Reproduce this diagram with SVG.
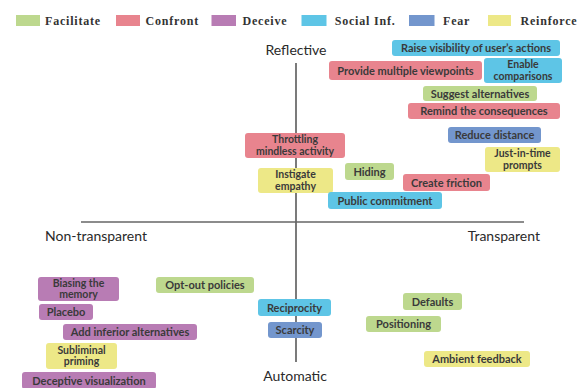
<svg xmlns="http://www.w3.org/2000/svg" width="584" height="388" viewBox="0 0 584 388">
<style>
.fa{fill:#bdd88e}.co{fill:#e8848e}.de{fill:#b87cb4}.so{fill:#5ec5e6}.fe{fill:#7396cd}.re{fill:#ede887}
.t{font-family:Lato,"Open Sans",sans-serif;font-weight:700;font-size:11px;fill:#3a3a3a;text-anchor:middle}
.t2{font-size:10.5px}
.lg{font-family:"Liberation Serif","Times New Roman",serif;font-weight:700;font-size:12px;letter-spacing:0.8px;fill:#333}
.ax{font-family:Lato,"Open Sans",sans-serif;font-size:14px;fill:#2a2a2a}
.axl{stroke:#333;stroke-width:1.3;fill:none}
.axh{stroke:#666;stroke-width:1.3;fill:none}
</style>
<rect width="584" height="388" fill="#fff"/>
<g id="legend">
<rect class="fa" x="16" y="15" width="24" height="11"/><text class="lg" x="45" y="25">Facilitate</text>
<rect class="co" x="116" y="15" width="24" height="11"/><text class="lg" x="145.5" y="25">Confront</text>
<rect class="de" x="211.5" y="15" width="24.5" height="11"/><text class="lg" x="242.5" y="25">Deceive</text>
<rect class="so" x="301.5" y="15" width="25" height="11"/><text class="lg" x="334.7" y="25">Social Inf.</text>
<rect class="fe" x="409" y="15" width="25.5" height="11"/><text class="lg" x="443" y="25">Fear</text>
<rect class="re" x="488" y="15" width="23" height="11"/><text class="lg" x="520.5" y="25">Reinforce</text>
</g>
<g id="connectors">
<line class="axl" x1="296" y1="63" x2="296" y2="362"/>
<line class="axh" x1="81" y1="222" x2="524" y2="222"/>
</g>
<g id="labels">
<text class="ax" x="296" y="55" text-anchor="middle">Reflective</text>
<text class="ax" x="295" y="381" text-anchor="middle">Automatic</text>
<text class="ax" x="45" y="241">Non-transparent</text>
<text class="ax" x="540" y="241" text-anchor="end">Transparent</text>
</g>
<g id="raise"><rect class="so" x="392" y="40" width="168" height="16" rx="3"/><text class="t" x="476" y="52">Raise visibility of user’s actions</text></g>
<g id="provide"><rect class="co" x="329" y="61" width="153" height="19" rx="3"/><text class="t" x="405.5" y="74.5">Provide multiple viewpoints</text></g>
<g id="enable"><rect class="so" x="484" y="58" width="78" height="25" rx="3"/><text class="t t2" x="523" y="68.3">Enable<tspan x="523" dy="11.3">comparisons</tspan></text></g>
<g id="suggest"><rect class="fa" x="423" y="86" width="114" height="15" rx="3"/><text class="t" x="480" y="97.5">Suggest alternatives</text></g>
<g id="remind"><rect class="co" x="408" y="103" width="152" height="16" rx="3"/><text class="t" x="484" y="115">Remind the consequences</text></g>
<g id="reduce"><rect class="fe" x="448" y="127" width="93" height="16" rx="3"/><text class="t" x="494.5" y="139">Reduce distance</text></g>
<g id="throttling"><rect class="co" x="245" y="133" width="100" height="25" rx="3"/><text class="t t2" x="295" y="143.3">Throttling<tspan x="295" dy="11.3">mindless activity</tspan></text></g>
<g id="justintime"><rect class="re" x="485" y="147" width="75" height="25" rx="3"/><text class="t t2" x="522.5" y="157.3">Just-in-time<tspan x="522.5" dy="11.3">prompts</tspan></text></g>
<g id="instigate"><rect class="re" x="258" y="168" width="75" height="25" rx="3"/><text class="t t2" x="295.5" y="178.3">Instigate<tspan x="295.5" dy="11.3">empathy</tspan></text></g>
<g id="hiding"><rect class="fa" x="345" y="163" width="49" height="17" rx="3"/><text class="t" x="369.5" y="175.5">Hiding</text></g>
<g id="friction"><rect class="co" x="403" y="174" width="87" height="17" rx="3"/><text class="t" x="446.5" y="186.5">Create friction</text></g>
<g id="public"><rect class="so" x="328" y="192" width="114" height="17" rx="3"/><text class="t" x="385" y="204.5">Public commitment</text></g>
<g id="biasing"><rect class="de" x="38" y="277" width="81" height="24" rx="3"/><text class="t t2" x="78.5" y="287">Biasing the<tspan x="78.5" dy="11.3">memory</tspan></text></g>
<g id="optout"><rect class="fa" x="156" y="277" width="98" height="16" rx="3"/><text class="t" x="205" y="289">Opt-out policies</text></g>
<g id="placebo"><rect class="de" x="39" y="304" width="54" height="16" rx="3"/><text class="t" x="66" y="316">Placebo</text></g>
<g id="inferior"><rect class="de" x="63" y="324" width="134" height="16" rx="3"/><text class="t" x="130" y="336">Add inferior alternatives</text></g>
<g id="subliminal"><rect class="re" x="46" y="343" width="71" height="26" rx="3"/><text class="t t2" x="81.5" y="353.7">Subliminal<tspan x="81.5" dy="11.3">priming</tspan></text></g>
<g id="deceptive"><rect class="de" x="22" y="372" width="134" height="17" rx="3"/><text class="t" x="89" y="384.5">Deceptive visualization</text></g>
<g id="reciprocity"><rect class="so" x="258" y="299" width="73" height="17" rx="3"/><text class="t" x="294.5" y="311.5">Reciprocity</text></g>
<g id="scarcity"><rect class="fe" x="268" y="322" width="54" height="16" rx="3"/><text class="t" x="295" y="334">Scarcity</text></g>
<g id="defaults"><rect class="fa" x="403" y="293" width="59" height="17" rx="3"/><text class="t" x="432.5" y="305.5">Defaults</text></g>
<g id="positioning"><rect class="fa" x="366" y="316" width="75" height="16" rx="3"/><text class="t" x="403.5" y="328">Positioning</text></g>
<g id="ambient"><rect class="re" x="424" y="351" width="106" height="16" rx="3"/><text class="t" x="477" y="363">Ambient feedback</text></g>
</svg>
